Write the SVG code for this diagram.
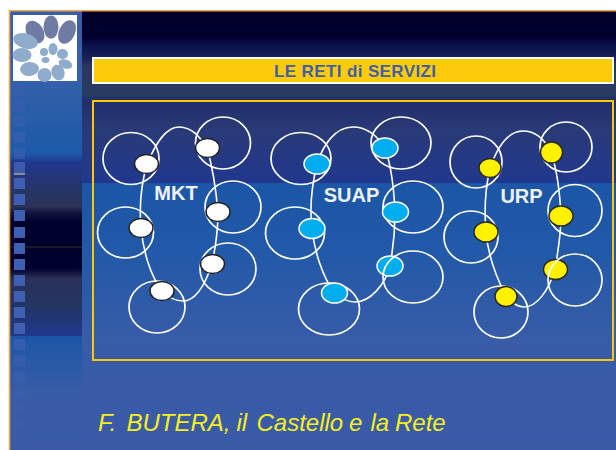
<svg xmlns="http://www.w3.org/2000/svg" width="616" height="450" viewBox="0 0 616 450">
<style>
.ring{fill:none;stroke:#fff;stroke-width:1.7}
.link{fill:none;stroke:#fff;stroke-width:1.6}
.w{fill:#fff;stroke:#222;stroke-width:1.5}
.b{fill:#00aeef;stroke:#fff;stroke-width:1.5}
.y{fill:#fff200;stroke:#2a2a20;stroke-width:1.5}
.lbl{font-family:"Liberation Sans",Arial,sans-serif;font-weight:bold;font-size:20px;fill:#eef2fa;text-anchor:middle}
.sq{fill:#3f5fb2}
.petal1{fill:#6f7ba3}
.petal2{fill:#8faccd}
</style>
<defs>
<linearGradient id="rbg" x1="0" y1="11" x2="0" y2="450" gradientUnits="userSpaceOnUse">
<stop offset="0" stop-color="#000028"/>
<stop offset="0.06" stop-color="#00002e"/>
<stop offset="0.075" stop-color="#0a0f48"/>
<stop offset="0.11" stop-color="#1b2358"/>
<stop offset="0.125" stop-color="#2c3560"/>
<stop offset="0.19" stop-color="#2a3c60"/>
<stop offset="0.205" stop-color="#1f2f6b"/>
<stop offset="0.27" stop-color="#2a3a78"/>
<stop offset="0.392" stop-color="#20388e"/>
<stop offset="0.393" stop-color="#1c56a6"/>
<stop offset="0.55" stop-color="#2259a8"/>
<stop offset="0.75" stop-color="#385ca8"/>
<stop offset="1" stop-color="#3a5aa6"/>
</linearGradient>
<linearGradient id="lbg" x1="0" y1="11" x2="0" y2="450" gradientUnits="userSpaceOnUse">
<stop offset="0" stop-color="#3a5ca8"/>
<stop offset="0.15" stop-color="#3560ab"/>
<stop offset="0.325" stop-color="#1c5aa8"/>
<stop offset="0.345" stop-color="#21388c"/>
<stop offset="0.41" stop-color="#263565"/>
<stop offset="0.445" stop-color="#2c3358"/>
<stop offset="0.46" stop-color="#12143f"/>
<stop offset="0.48" stop-color="#00002c"/>
<stop offset="0.585" stop-color="#00002c"/>
<stop offset="0.61" stop-color="#2a3158"/>
<stop offset="0.67" stop-color="#233562"/>
<stop offset="0.74" stop-color="#20388e"/>
<stop offset="0.741" stop-color="#1c56a6"/>
<stop offset="0.87" stop-color="#385ca8"/>
<stop offset="1" stop-color="#3a5aa6"/>
</linearGradient>
</defs>
<rect x="0" y="0" width="616" height="450" fill="#fff"/>
<rect x="10" y="11" width="606" height="439" fill="url(#rbg)"/>
<rect x="10" y="11" width="72" height="439" fill="url(#lbg)"/>
<path d="M9.500 450V10.700H616" fill="none" stroke="#eda64a" stroke-width="1.600"/>
<path d="M10 247H82" stroke="#3a3420" stroke-width="1.200"/>

<g id="squares">
<rect class="sq" x="14" y="85" width="11" height="11" opacity=".35"/>
<rect class="sq" x="14" y="101" width="11" height="11" opacity=".4"/>
<rect class="sq" x="14" y="116" width="11" height="11" opacity=".45"/>
<rect class="sq" x="14" y="132" width="11" height="11" opacity=".5"/>
<rect class="sq" x="14" y="148" width="11" height="11" opacity=".6"/>
<rect class="sq" x="14" y="162" width="11" height="11" opacity=".9"/>
<rect class="sq" x="14" y="178" width="11" height="11"/>
<rect class="sq" x="14" y="194" width="11" height="11"/>
<rect class="sq" x="14" y="210" width="11" height="11"/>
<rect class="sq" x="14" y="227" width="11" height="11"/>
<rect class="sq" x="14" y="243" width="11" height="11"/>
<rect class="sq" x="14" y="259" width="11" height="11"/>
<rect class="sq" x="14" y="275" width="11" height="11"/>
<rect class="sq" x="14" y="291" width="11" height="11"/>
<rect class="sq" x="14" y="307" width="11" height="11"/>
<rect class="sq" x="14" y="323" width="11" height="11"/>
<rect class="sq" x="14" y="339" width="11" height="11" opacity=".7"/>
<rect class="sq" x="14" y="355" width="11" height="11" opacity=".6"/>
<rect class="sq" x="14" y="371" width="11" height="11" opacity=".5"/>
<rect class="sq" x="14" y="387" width="11" height="11" opacity=".4"/>
<rect class="sq" x="14" y="403" width="11" height="11" opacity=".3"/>
<rect class="sq" x="14" y="419" width="11" height="11" opacity=".25"/>
<rect class="sq" x="14" y="435" width="11" height="11" opacity=".2"/>
<rect x="14" y="173" width="11" height="2" fill="#8a8f98"/>
</g>

<g id="logo">
<rect x="13" y="15" width="64" height="66" fill="#fff"/>
<ellipse class="petal1" cx="35" cy="32" rx="8.500" ry="12" transform="rotate(-30 35 32)"/>
<ellipse class="petal1" cx="51" cy="27" rx="7.500" ry="11.500"/>
<ellipse class="petal1" cx="67" cy="32" rx="8" ry="12.500" transform="rotate(25 67 32)"/>
<ellipse class="petal2" cx="25.500" cy="41" rx="12.500" ry="7.500" transform="rotate(15 25.500 41)"/>
<ellipse class="petal2" cx="22" cy="55" rx="9.500" ry="7"/>
<ellipse class="petal2" cx="29.500" cy="69" rx="9.500" ry="7" transform="rotate(-5 29.500 69)"/>
<ellipse class="petal2" cx="44.500" cy="75" rx="7" ry="7"/>
<ellipse class="petal2" cx="58" cy="72.500" rx="6.500" ry="8" transform="rotate(-20 58 72.500)"/>
<ellipse class="petal2" cx="65.500" cy="64" rx="7" ry="4.500" transform="rotate(20 65.500 64)"/>
<ellipse class="petal2" cx="62.500" cy="54" rx="5.500" ry="5"/>
<ellipse class="petal2" cx="53" cy="49" rx="4.500" ry="6"/>
<ellipse class="petal2" cx="44" cy="52" rx="4" ry="4"/>
<ellipse class="petal2" cx="45.500" cy="60" rx="4" ry="3"/>
</g>

<g id="title">
<rect x="93" y="58" width="520" height="25" fill="#fecb0a" stroke="#fff" stroke-width="2"/>
<text x="274" y="76.500" font-family="'Liberation Sans',Arial,sans-serif" font-weight="bold" font-size="17" fill="#3f5fa8" textLength="162" lengthAdjust="spacing">LE RETI di SERVIZI</text>
</g>

<rect id="frame" x="93" y="101" width="520" height="259" fill="none" stroke="#fcc60a" stroke-width="2"/>

<g id="connectors">
<path class="link" d="M147 164C155 145 165 127 179 127C192 127 200 137 207 148C212 165 216 190 218 212C218 230 215 250 212 264C205 285 195 301 183 301C175 301 168 297 162 291C150 275 143 250 141 228C139 205 141 185 147 164"/>
<path class="link" d="M317 164C323 145 335 127 353 127C368 127 378 137 385 148C391 165 394 190 395 212C395 230 393 250 390 266C385 285 370 302 355 302C347 302 340 298 334 293C322 275 314 250 312 228C309 205 312 185 317 164"/>
<path class="link" d="M490 168C497 148 508 131 523 131C537 131 545 140 551 152C557 170 560 195 561 216C561 235 558 252 555 269C549 290 537 307 524 307C517 307 511 302 506 296C495 275 488 255 486 232C484 210 485 190 490 168"/>
</g>

<g id="mkt-label"><text class="lbl" x="176" y="199.500">MKT</text></g>
<g id="suap-label"><text class="lbl" x="351.500" y="202">SUAP</text></g>
<g id="urp-label"><text class="lbl" x="521.500" y="203">URP</text></g>

<g id="mkt-1"><ellipse class="ring" cx="131" cy="158.500" rx="28" ry="26"/><ellipse class="w" cx="146.500" cy="164" rx="12" ry="9.500"/></g>
<g id="mkt-2"><ellipse class="ring" cx="223" cy="143" rx="27.500" ry="26"/><ellipse class="w" cx="207.500" cy="148" rx="12" ry="9.500"/></g>
<g id="mkt-3"><ellipse class="ring" cx="233" cy="207" rx="28" ry="26"/><ellipse class="w" cx="218" cy="212" rx="12" ry="9.500"/></g>
<g id="mkt-4"><ellipse class="ring" cx="228" cy="269" rx="28" ry="26"/><ellipse class="w" cx="212.500" cy="264" rx="12" ry="9.500"/></g>
<g id="mkt-5"><ellipse class="ring" cx="157" cy="307" rx="28" ry="26"/><ellipse class="w" cx="162" cy="291" rx="12" ry="9.500"/></g>
<g id="mkt-6"><ellipse class="ring" cx="125.500" cy="232.500" rx="28" ry="25.500"/><ellipse class="w" cx="141" cy="228" rx="12" ry="9.500"/></g>

<g id="suap-1"><ellipse class="b" cx="317" cy="164" rx="13" ry="10"/><ellipse class="ring" cx="301" cy="158.500" rx="30" ry="26"/></g>
<g id="suap-2"><ellipse class="ring" cx="401" cy="143" rx="30" ry="26"/><ellipse class="b" cx="385" cy="148" rx="13" ry="10"/></g>
<g id="suap-3"><ellipse class="ring" cx="413" cy="207" rx="30" ry="26"/><ellipse class="b" cx="395.500" cy="212" rx="13" ry="10"/></g>
<g id="suap-4"><ellipse class="b" cx="390" cy="266" rx="13" ry="10"/><ellipse class="ring" cx="413" cy="277" rx="30" ry="26"/></g>
<g id="suap-5"><ellipse class="ring" cx="329" cy="309" rx="30.500" ry="26"/><ellipse class="b" cx="334.500" cy="293" rx="13" ry="10"/></g>
<g id="suap-6"><ellipse class="ring" cx="295" cy="233" rx="29.500" ry="26"/><ellipse class="b" cx="312" cy="228.500" rx="13" ry="10"/></g>

<g id="urp-1"><ellipse class="ring" cx="476" cy="162" rx="26" ry="26"/><ellipse class="y" cx="490" cy="168" rx="11" ry="9.500"/></g>
<g id="urp-2"><ellipse class="ring" cx="566" cy="147" rx="26" ry="25"/><ellipse class="y" cx="551.500" cy="152.500" rx="11" ry="10.500"/></g>
<g id="urp-3"><ellipse class="ring" cx="575" cy="210.500" rx="27" ry="26"/><ellipse class="y" cx="561" cy="216" rx="12" ry="10"/></g>
<g id="urp-4"><ellipse class="y" cx="555.500" cy="269.500" rx="12" ry="10"/><ellipse class="ring" cx="575" cy="280" rx="27" ry="26"/></g>
<g id="urp-5"><ellipse class="ring" cx="501" cy="312" rx="27" ry="26"/><ellipse class="y" cx="506" cy="296.500" rx="11" ry="10"/></g>
<g id="urp-6"><ellipse class="ring" cx="471" cy="237" rx="27" ry="26"/><ellipse class="y" cx="486" cy="232" rx="12" ry="10"/></g>

<text y="430.500" font-family="'Liberation Sans',Arial,sans-serif" font-style="italic" font-size="24" fill="#f7ef1c"><tspan x="98">F.</tspan> <tspan x="126.500">BUTERA,</tspan> <tspan x="236.500">il</tspan> <tspan x="256.500">Castello</tspan> <tspan x="349">e</tspan> <tspan x="370.500">la</tspan> <tspan x="395">Rete</tspan></text>
</svg>
